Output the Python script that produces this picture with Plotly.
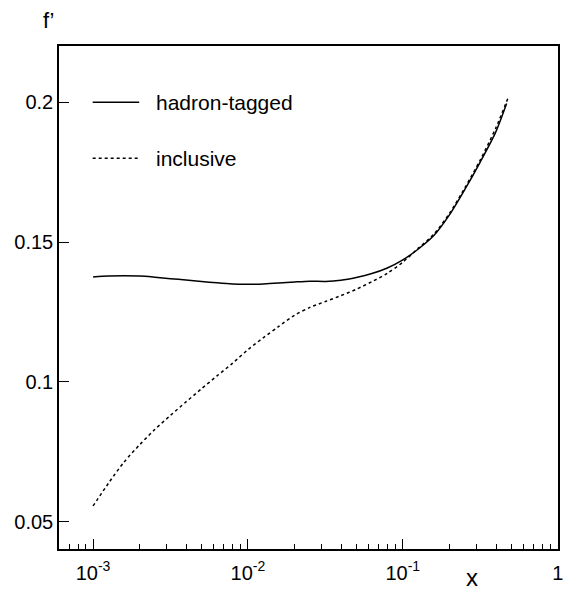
import plotly.graph_objects as go

# hadron-tagged (solid)
x_tagged = [0.001, 0.00126, 0.00158, 0.002, 0.00251, 0.00316, 0.00398, 0.00501, 0.00631, 0.00794,
            0.01, 0.0126, 0.0158, 0.02, 0.0251, 0.0316, 0.0398, 0.0501, 0.0631, 0.0794,
            0.1, 0.126, 0.158, 0.2, 0.251, 0.316, 0.398, 0.468]
f_tagged = [0.1375, 0.1378, 0.1379, 0.1378, 0.1374, 0.1369, 0.1364, 0.1359, 0.1354, 0.1350,
            0.1349, 0.1350, 0.1353, 0.1357, 0.1360, 0.1359, 0.1363, 0.1373, 0.1387, 0.1407,
            0.1436, 0.1475, 0.1522, 0.1597, 0.1687, 0.1786, 0.1893, 0.1995]

# inclusive (dashed)
x_incl = [0.001, 0.00126, 0.00158, 0.002, 0.00251, 0.00316, 0.00398, 0.00501, 0.00631, 0.00794,
          0.01, 0.0126, 0.0158, 0.02, 0.0251, 0.0316, 0.0398, 0.0501, 0.0631, 0.0794,
          0.1, 0.126, 0.158, 0.2, 0.251, 0.316, 0.398, 0.48]
f_incl = [0.0556, 0.0638, 0.0712, 0.0775, 0.0830, 0.0880, 0.0928, 0.0975, 0.1021, 0.1066,
          0.1115, 0.1158, 0.1198, 0.1238, 0.1266, 0.1287, 0.1308, 0.1331, 0.1358, 0.1388,
          0.1428, 0.1478, 0.1527, 0.1602, 0.1693, 0.1793, 0.1907, 0.2018]

legend_labels = ["hadron-tagged", "inclusive"]
y_tickvals = [0.05, 0.1, 0.15, 0.2]
y_ticktext = ["0.05", "0.1", "0.15", "0.2"]
x_major = [0.001, 0.01, 0.1, 1]
x_ticktext = ["10<sup>-3</sup>", "10<sup>-2</sup>", "10<sup>-1</sup>", "1"]
x_minor = [m * 10 ** e for e in (-4, -3, -2, -1) for m in range(2, 10)]

FONT = "Liberation Sans, Arial, Helvetica, sans-serif"

fig = go.Figure()
fig.add_trace(go.Scatter(x=x_tagged, y=f_tagged, mode="lines", name=legend_labels[0],
                         line=dict(color="black", width=1.5, shape="spline", smoothing=0.8)))
fig.add_trace(go.Scatter(x=x_incl, y=f_incl, mode="lines", name=legend_labels[1],
                         line=dict(color="black", width=1.5, dash="3px,3px",
                                   shape="spline", smoothing=0.8)))

fig.update_layout(
    width=566, height=590,
    margin=dict(l=59, r=3, t=46, b=41),
    paper_bgcolor="white", plot_bgcolor="white",
    showlegend=False,
    font=dict(family=FONT, size=20, color="black"),
    xaxis=dict(
        type="log", range=[-3.22, 0.002],
        tickmode="array", tickvals=x_major, ticktext=x_ticktext,
        ticks="inside", ticklen=10, tickwidth=1, tickcolor="black",
        showline=True, linewidth=1.5, linecolor="black", mirror=True,
        showgrid=False, zeroline=False,
        minor=dict(tickmode="array", tickvals=x_minor, ticks="inside", ticklen=5,
                   tickwidth=1, tickcolor="black", showgrid=False),
        tickfont=dict(size=20),
        ticklabelstandoff=5,
        ticklabeloverflow="allow",
    ),
    yaxis=dict(
        range=[0.0402, 0.2201],
        tickmode="array", tickvals=y_tickvals, ticktext=y_ticktext,
        ticks="inside", ticklen=10, tickwidth=1, tickcolor="black",
        showline=True, linewidth=1.5, linecolor="black", mirror=True,
        showgrid=False, zeroline=False,
        tickfont=dict(size=20),
    ),
)

# legend drawn manually
leg_y = [0.888, 0.7766]
dashes = ["solid", "3px,3px"]
for yy, lab, ds in zip(leg_y, legend_labels, dashes):
    fig.add_shape(type="line", xref="paper", yref="paper", x0=0.0675, x1=0.1607, y0=yy, y1=yy,
                  line=dict(color="black", width=1.5, dash=ds))
    fig.add_annotation(xref="paper", yref="paper", x=0.1904, y=yy, text=lab, showarrow=False,
                       xanchor="left", yanchor="middle", font=dict(size=21, family=FONT))

# axis titles
fig.add_annotation(xref="paper", yref="paper", x=(476 - 59) / 504, y=-(578 - 549) / 503.5,
                   text="x", showarrow=False, xanchor="center", yanchor="middle",
                   font=dict(size=24, family=FONT))
fig.add_annotation(xref="paper", yref="paper", x=(48 - 59) / 504, y=(549 - 20) / 503.5,
                   text="f’", showarrow=False, xanchor="center", yanchor="middle",
                   font=dict(size=22, family=FONT))

fig.write_html("out.html", config={"displayModeBar": False},
               post_script="document.body.style.margin='0px';document.body.style.overflow='hidden';")
